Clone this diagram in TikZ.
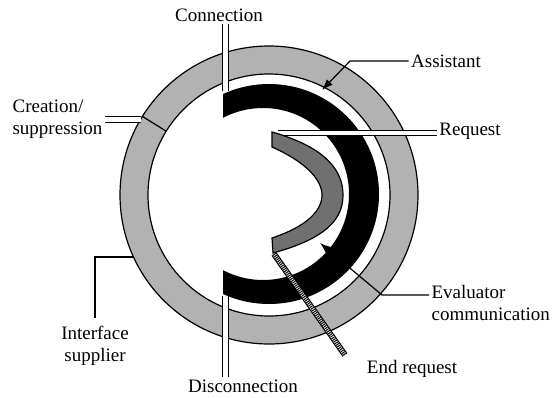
\documentclass[tikz,border=0pt]{standalone}
\usepackage{fontspec}
\setmainfont{Liberation Serif}
\usetikzlibrary{arrows.meta}
\definecolor{ringgray}{gray}{0.70}
\definecolor{evalgray}{gray}{0.44}
\begin{document}
\begin{tikzpicture}[x = 1pt, y = -1pt, line width = 1.2pt,
  >={Latex[length = 11pt, width = 8pt]},
  lbl/.style = {inner sep = 2pt, font = \fontsize{19}{22}\selectfont},
  dbl/.style = {double = white, double distance = 4.5pt, line width = 1.1pt}]
\useasboundingbox (0,0) rectangle (557,397);
\node [lbl] (con) at (219,15) {Connection};
\node [lbl] (dis) at (243,386) {Disconnection};
\node [lbl] (asst) at (446,61) {Assistant};
\node [lbl] (req) at (470,131) {Request};
\node [lbl, align = left, anchor = west] (crea) at (10,119) {Creation/\\suppression};
\node [lbl, align = center] (intf) at (95,346) {Interface\\supplier};
\node [lbl, align = left, anchor = west] (eval) at (429,303) {Evaluator\\communication};
\node [lbl] (endr) at (412,369) {End request};
\coordinate (conEnd) at (225.5,91);
\coordinate (disEnd) at (225.5,296);
\coordinate (creaEnd) at (141,119.5);
\coordinate (reqStart) at (278,133);
\coordinate (intfEnd) at (133.5,257);
\coordinate (asstBend) at (350,61);
\coordinate (asstTip) at (322,90);
\coordinate (evalBend) at (382,295);
\coordinate (evalTip) at (320,243);
\coordinate (endStart) at (274,254);
\coordinate (endStop) at (345,355);
% outer ring
\fill [ringgray, even odd rule] (269,195) circle (149) (269,195) circle (121);
\draw (269,195) circle (149);
\draw (269,195) circle (121);
\draw (142.4,116.4) -- (166.2,131.2);
% assistant
\begin{scope}
\clip (223,0) rectangle (557,397);
\fill [even odd rule] (269,194) circle (110) (263,194) circle (86);
\end{scope}
\draw [dbl] (reqStart) -- (reqStart -| req.west);
% evaluator
\draw [fill = evalgray] (272,132) .. controls (328,148) and (343,172) .. (343,195)
  .. controls (343,218) and (328,238) .. (273,253) -- (272,238)
  .. controls (308,226) and (322,210) .. (322,195)
  .. controls (322,180) and (306,162) .. (272,147) -- cycle;
\draw [dbl] (con.south -| conEnd) -- (conEnd);
\draw [dbl] (dis.north -| disEnd) -- (disEnd);
\draw [dbl] (crea.east |- creaEnd) -- (creaEnd);
\draw ([yshift = 6pt]intf.north) |- (intfEnd);
\draw [->] (asst) -- (asstBend) -- (asstTip);
\draw [->] (eval.west |- evalBend) -- (evalBend) -- (evalTip);
\draw [line width = 6pt] (endStart) -- (endStop);
\draw [white, line width = 3.6pt] (endStart) -- (endStop);
\draw [line width = 3.6pt, dash pattern = on 1pt off 1pt] (endStart) -- (endStop);
%\draw [dashed, gray] (223,0) -- (223,397);
\end{tikzpicture}
\end{document}
